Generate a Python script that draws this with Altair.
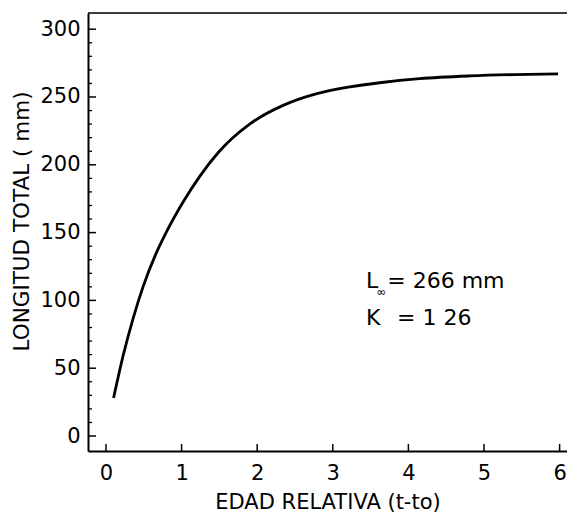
import altair as alt
import pandas as pd

# Curve
edad = [0.10, 0.23, 0.36, 0.49, 0.65, 0.80, 1.02, 1.24, 1.50, 1.90, 2.35, 2.79, 3.23, 3.62, 4.15, 4.81, 5.40, 5.98]
longitud = [28, 60, 87, 110, 133, 150.5, 172.5, 191.5, 210, 230, 244, 252.5, 257.5, 260.5, 263.5, 265.5, 266.5, 267]

x_ticks = [0, 1, 2, 3, 4, 5, 6]
y_major = [0, 50, 100, 150, 200, 250, 300]
y_minor = [10, 20, 30, 40, 60, 70, 80, 90, 110, 120, 130, 140, 160, 170, 180, 190,
           210, 220, 230, 240, 260, 270, 280, 290]

ann_x = [3.44, 3.575, 3.72, 3.44, 3.85]
ann_y = [109, 103.5, 109, 82, 82]
ann_text = ["L", "\u221e", "= 266 mm", "K", "= 1 26"]
ann_size = [22, 12, 22, 22, 22]

W, H = 479, 438
FONT = "DejaVu Sans"

xs = alt.Scale(domain=[-0.238, 6.098], nice=False, zero=False)
ys = alt.Scale(domain=[-11.06, 311.94], nice=False, zero=False)

curve_df = pd.DataFrame({"t": edad, "L": longitud})

curve = alt.Chart(curve_df).mark_line(color="black", strokeWidth=2.8, interpolate="monotone").encode(
    x=alt.X("t:Q", scale=xs, axis=alt.Axis(
        values=x_ticks, format="d", ticks=False, grid=False, labelPadding=11, labelFontSize=21,
        title="EDAD RELATIVA (t-to)", titleFontSize=21, titleFontWeight="normal",
        titleBaseline="alphabetic", titleY=57, titleX=W / 2,
        domainWidth=2, domainColor="black", labelColor="black", titleColor="black",
        labelFont=FONT, titleFont=FONT)),
    y=alt.Y("L:Q", scale=ys, axis=alt.Axis(
        values=y_major, format="d", ticks=False, grid=False, labelPadding=8, labelFontSize=21,
        title="LONGITUD TOTAL ( mm)", titleFontSize=21.5, titleFontWeight="normal",
        titleBaseline="alphabetic", titleX=-60, titleY=208, titleAngle=-90,
        domainWidth=2, domainColor="black", labelColor="black", titleColor="black",
        labelFont=FONT, titleFont=FONT)),
)

top_line = alt.Chart(pd.DataFrame({"a": [0]})).mark_rule(color="black", strokeWidth=1.5).encode(
    x=alt.value(0), x2=alt.value(W), y=alt.value(0)
)

ymaj = alt.Chart(pd.DataFrame({"v": y_major})).mark_rule(color="black", strokeWidth=1.5).encode(
    y=alt.Y("v:Q", scale=ys), x=alt.value(0), x2=alt.value(8)
)
ymin = alt.Chart(pd.DataFrame({"v": y_minor})).mark_rule(color="black", strokeWidth=1.3).encode(
    y=alt.Y("v:Q", scale=ys), x=alt.value(0), x2=alt.value(4)
)
xmaj = alt.Chart(pd.DataFrame({"v": x_ticks})).mark_rule(color="black", strokeWidth=1.5).encode(
    x=alt.X("v:Q", scale=xs), y=alt.value(H), y2=alt.value(H - 7)
)

ann_df = pd.DataFrame({"x": ann_x, "y": ann_y, "txt": ann_text, "s": ann_size})
ann = alt.Chart(ann_df).mark_text(align="left", baseline="alphabetic", font=FONT, color="black").encode(
    x=alt.X("x:Q", scale=xs), y=alt.Y("y:Q", scale=ys), text="txt:N",
    size=alt.Size("s:Q", scale=None, legend=None)
)

chart = alt.layer(curve, top_line, ymaj, ymin, xmaj, ann).properties(
    width=W, height=H,
    autosize=alt.AutoSizeParams(type="none"),
    padding={"left": 80, "top": 5, "right": 0, "bottom": 62},
).configure_view(stroke=None).configure(background="white")

chart.save("out.html", embed_options={"renderer": "svg", "actions": False})
